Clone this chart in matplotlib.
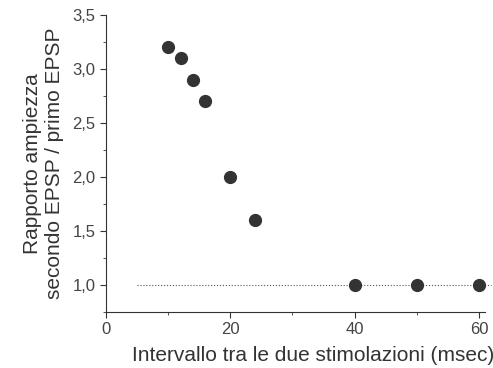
import matplotlib.pyplot as plt
from matplotlib.ticker import MultipleLocator, FuncFormatter

plt.rcParams['font.family'] = ['Liberation Sans', 'DejaVu Sans']

# intervallo (msec) e rapporto EPSP2/EPSP1
intervallo = [10, 12, 14, 16, 20, 24, 40, 50, 60]
rapporto = [3.2, 3.1, 2.9, 2.7, 2.0, 1.6, 1.0, 1.0, 1.0]
baseline_x = [5, 62]
baseline_y = [1.0, 1.0]

fig = plt.figure(figsize=(4.93, 3.68), dpi=100)
ax = fig.add_axes([0.215, 0.152, 0.769, 0.807])

ax.plot(baseline_x, baseline_y, ':', color='#555555', linewidth=0.8, clip_on=False)
ax.plot(intervallo, rapporto, 'o', color='#333333', markersize=8.5, clip_on=False)

ax.set_xlim(0, 61)
ax.set_ylim(0.75, 3.5)
ax.xaxis.set_major_locator(MultipleLocator(20))
ax.xaxis.set_minor_locator(MultipleLocator(10))
ax.yaxis.set_major_locator(MultipleLocator(0.5))
ax.yaxis.set_minor_locator(MultipleLocator(0.25))
ax.yaxis.set_major_formatter(FuncFormatter(lambda v, p: f'{v:.1f}'.replace('.', ',')))

for s in ('top', 'right'):
    ax.spines[s].set_visible(False)
for s in ('left', 'bottom'):
    ax.spines[s].set_color('#333333')
ax.tick_params(which='both', direction='out', colors='#333333', labelcolor='#444444', labelsize=12)
ax.tick_params(which='major', length=4)
ax.tick_params(which='minor', length=2)

ax.set_xlabel('Intervallo tra le due stimolazioni (msec)', fontsize=15, color='#333333')
ax.xaxis.set_label_coords(0.547, -0.115)
ax.set_ylabel('Rapporto ampiezza\nsecondo EPSP / primo EPSP', fontsize=15, color='#333333', labelpad=6)

fig.savefig('out.png', dpi=100)
